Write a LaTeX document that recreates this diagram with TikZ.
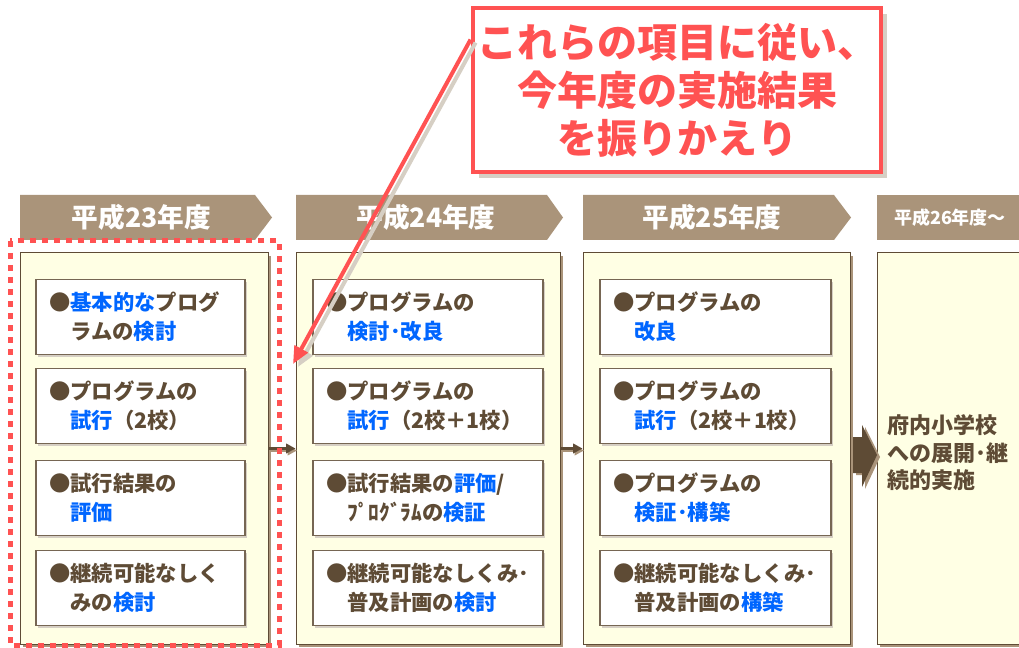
\documentclass[tikz,border=0pt]{standalone}
\usepackage{fontspec}
\setmainfont{Noto Sans CJK JP}
\usepackage{tikz}
\usetikzlibrary{arrows.meta, positioning, calc, fit, shadows}
\definecolor{bannerbg}{RGB}{170,148,122}
\definecolor{ink}{RGB}{94,75,53}
\definecolor{cream}{RGB}{255,255,228}
\definecolor{hlblue}{RGB}{0,102,255}
\definecolor{alert}{RGB}{255,82,82}
\definecolor{shade}{RGB}{214,207,196}
\newcommand{\hl}[1]{\textcolor{hlblue}{#1}}
\newcommand{\itm}[2]{●#1\\\hphantom{●}#2}
\tikzset{
    banner/.style={fill=bannerbg},
    yeartext/.style={text=white, inner sep=0pt, font=\bfseries\fontsize{20}{24}\selectfont},
    panel/.style={rectangle, draw=ink, line width=0.75pt, fill=cream, inner sep=0pt,
        drop shadow={shadow xshift=2.25pt, shadow yshift=-2.25pt, fill=bannerbg, opacity=1}},
    itembox/.style={rectangle, draw=ink!85, line width=1pt, fill=white, minimum height=56.25pt,
        text width=#1, inner xsep=9.75pt, align=left, text=ink,
        font=\bfseries\fontsize{16}{21.75}\selectfont,
        drop shadow={shadow xshift=1.5pt, shadow yshift=-1.5pt, fill=shade, opacity=1}},
    callout/.style={rectangle, draw=alert, line width=3pt, fill=white, minimum width=301.5pt,
        minimum height=123pt, align=center, text=alert, font=\bfseries\fontsize{30}{36}\selectfont,
        drop shadow={shadow xshift=4.5pt, shadow yshift=-4.5pt, fill=shade, opacity=1}},
    flow/.style={draw=ink, line width=2.25pt, -{Triangle[length=7pt,width=7pt]}},
    pointer/.style={draw=alert, line width=3pt, -{Triangle[length=13pt,width=11pt]}},
    focus/.style={draw=alert, line width=3.75pt, dash pattern=on 4.5pt off 4.5pt}
}

\begin{document}
\begin{tikzpicture}[x=0.75pt, y=-0.75pt]
    \clip (0,0) rectangle (1019,648);
    \fill[white] (0,0) rectangle (1019,648);

    % year banners
    \fill[banner] (20,195) -- (255,195) -- (272,217.5) -- (255,240) -- (20,240) -- cycle;
    \fill[banner] (296,195) -- (547,195) -- (563,217.5) -- (547,240) -- (296,240) -- cycle;
    \fill[banner] (583,195) -- (834,195) -- (851,217.5) -- (834,240) -- (583,240) -- cycle;
    \fill[banner] (877,195) rectangle (1030,240);
    \node (y23) [yeartext] at (141.5,217.5) {平成23年度};
    \node (y24) [yeartext] at (426,217.5) {平成24年度};
    \node (y25) [yeartext] at (712,217.5) {平成25年度};
    \node (y26) [yeartext, font=\bfseries\fontsize{13.5}{16}\selectfont] at (950,217.5) {平成26年度～};

    % panels
    \node (p1) [panel, fit={(20,253) (268,644)}] {};
    \node (p2) [panel, fit={(296,253) (560,644)}] {};
    \node (p3) [panel, fit={(583,253) (850,644)}] {};
    \node (p4) [panel, fit={(877,253) (1030,644)}] {};

    % items, H23
    \node (a1) [itembox=137.25pt] at (140.5,317) {\itm{\hl{基本的な}プログ}{ラムの\hl{検討}}};
    \node (a2) [itembox=137.25pt] at (140.5,406) {\itm{プログラムの}{\hl{試行}（2校）}};
    \node (a3) [itembox=137.25pt] at (140.5,498) {\itm{試行結果の}{\hl{評価}}};
    \node (a4) [itembox=137.25pt] at (140.5,588) {\itm{継続可能なしく}{みの\hl{検討}}};
    % items, H24
    \node (b1) [itembox=153pt] at (428,317) {\itm{プログラムの}{\hl{検討･改良}}};
    \node (b2) [itembox=153pt] at (428,406) {\itm{プログラムの}{\hl{試行}（2校＋1校）}};
    \node (b3) [itembox=153pt] at (428,498) {\itm{試行結果の\hl{評価}/}{ﾌﾟﾛｸﾞﾗﾑの\hl{検証}}};
    \node (b4) [itembox=153pt] at (428,588) {\itm{継続可能なしくみ･}{普及計画の\hl{検討}}};
    % items, H25
    \node (c1) [itembox=153.75pt] at (715.5,317) {\itm{プログラムの}{\hl{改良}}};
    \node (c2) [itembox=153.75pt] at (715.5,406) {\itm{プログラムの}{\hl{試行}（2校＋1校）}};
    \node (c3) [itembox=153.75pt] at (715.5,498) {\itm{プログラムの}{\hl{検証･構築}}};
    \node (c4) [itembox=153.75pt] at (715.5,588) {\itm{継続可能なしくみ･}{普及計画の\hl{構築}}};
    % H26
    \node (d1) [anchor=west, align=left, text=ink, inner sep=0pt,
        font=\bfseries\fontsize{16.5}{20.6}\selectfont] at (887,453) {府内小学校\\への展開･継\\続的実施};

    % flow between years
    \draw [flow, draw=bannerbg] ($(p1.east)+(1.5,2)$) -- ($(p2.west)+(1.5,2)$);
    \draw [flow] (p1.east) -- (p2.west);
    \draw [flow, draw=bannerbg] ($(p2.east)+(1.5,2)$) -- ($(p3.west)+(1.5,2)$);
    \draw [flow] (p2.east) -- (p3.west);
    \fill[bannerbg] (856,439) -- (865,439) -- (865,427) -- (880,457) -- (865,489) -- (865,475) -- (856,475) -- cycle;
    \fill[ink] (853,437) -- (862,437) -- (862,425) -- (877,455) -- (862,487) -- (862,473) -- (853,473) -- cycle;

    % selected year
    \draw [focus] (10,241) rectangle (279,645);

    % note
    \node (note) [callout] at (677,90) {これらの項目に従い、\\今年度の実施結果\\を振りかえり};
    \coordinate (from) at ($(note.north west)!0.2!(note.south west)$);
    \coordinate (tip) at (293,364);
    \draw [pointer, draw=shade] ($(from)+(5,3)$) -- ($(tip)+(5,3)$);
    \draw [pointer] (from) -- (tip);
\end{tikzpicture}
\end{document}
